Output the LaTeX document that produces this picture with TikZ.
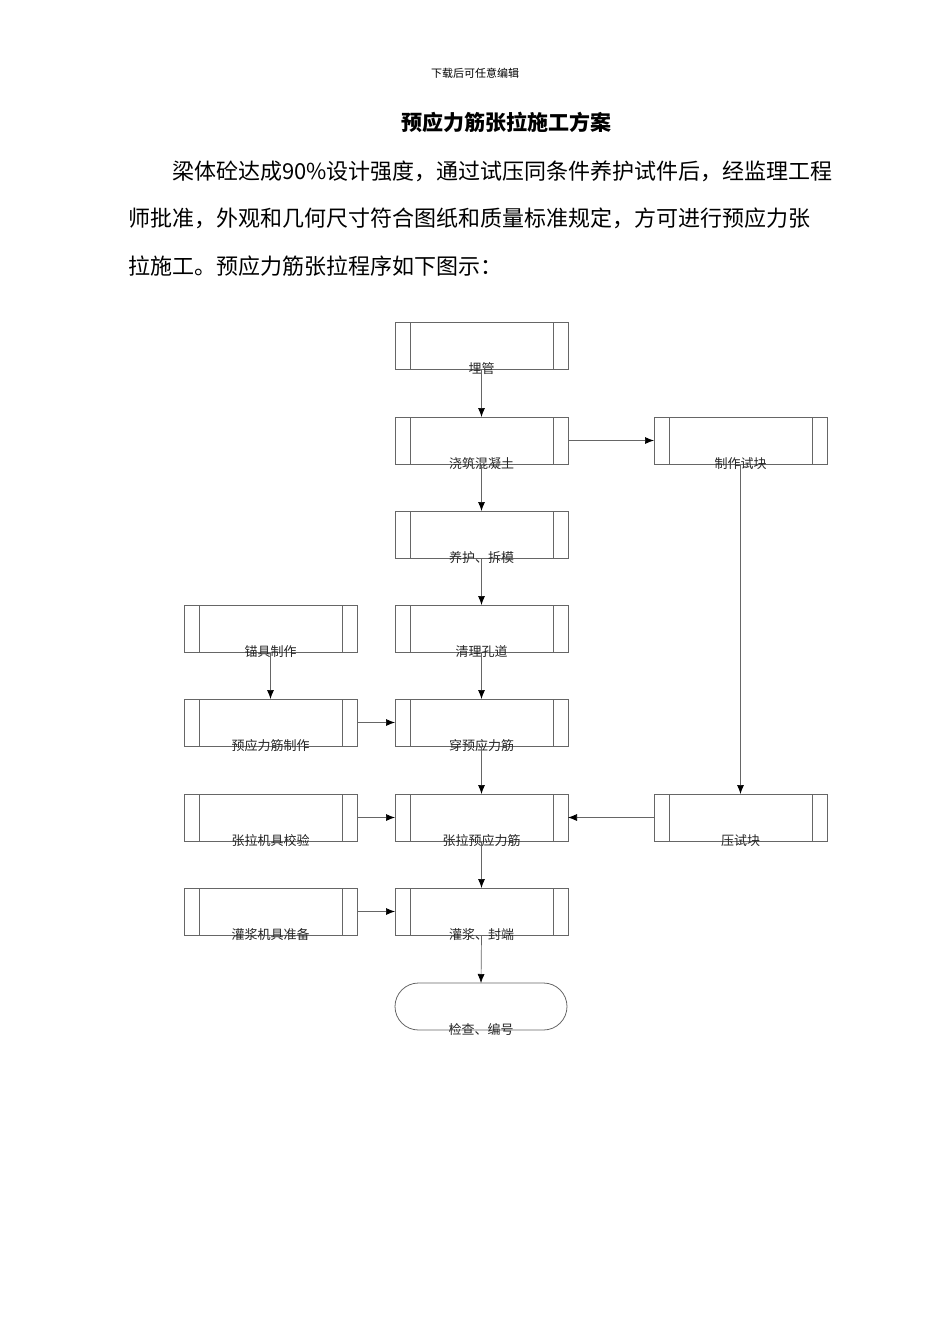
\documentclass[tikz,border=0pt]{standalone}
\usepackage{fontspec}
\setmainfont{Noto Sans CJK SC}
\begin{document}
\begin{tikzpicture}[x=1pt,y=-1pt,
 pp/.style={draw=black!60,line width=0.8pt},
 lab/.style={font=\fontsize{13}{13}\selectfont,text=black!85,anchor=base,inner sep=0pt},
 arr/.style={draw=black!60,line width=0.7pt,-{Latex[length=9pt,width=7pt,color=black]}},
 para/.style={font=\fontsize{22}{22}\selectfont,anchor=base west,inner sep=0pt}]
\usetikzlibrary{arrows.meta}
\useasboundingbox (0,0) rectangle (950,1344);
\node[font=\fontsize{11}{11}\selectfont,anchor=base,inner sep=0pt] (hdr) at (475,77) {下载后可任意编辑};
\node[font=\bfseries\fontsize{21}{21}\selectfont,anchor=base,inner sep=0pt] (title) at (506,130) {预应力筋张拉施工方案};
\node[para] (p1) at (172,179) {\makebox[663pt][s]{梁体砼达成90\%设计强度，通过试压同条件养护试件后，经监理工程}};
\node[para] (p2) at (128,226) {\makebox[707pt][s]{师批准，外观和几何尺寸符合图纸和质量标准规定，方可进行预应力张}};
\node[para] (p3) at (128,274) {拉施工。预应力筋张拉程序如下图示：};
% boxes
\newcommand{\ppbox}[5]{% name, x1, y1, label
 \path[pp] (#2,#3) rectangle (#2+173,#3+47);
 \path[pp] (#2+15,#3) -- (#2+15,#3+47) (#2+158,#3) -- (#2+158,#3+47);
 \coordinate (#1) at (#2+86.5,#3+23.5);
 \coordinate (#1t) at (#2+86.5,#3);
 \coordinate (#1b) at (#2+86.5,#3+47);
 \coordinate (#1l) at (#2,#3+23.5);
 \coordinate (#1r) at (#2+173,#3+23.5);
 \node[lab] (#1x) at (#2+86.5,#3+51) {#4};}
\ppbox{a}{395}{322}{埋管}{}
\ppbox{b}{395}{417}{浇筑混凝土}{}
\ppbox{c}{395}{511}{养护、拆模}{}
\ppbox{d}{395}{605}{清理孔道}{}
\ppbox{e}{395}{699}{穿预应力筋}{}
\ppbox{f}{395}{794}{张拉预应力筋}{}
\ppbox{g}{395}{888}{灌浆、封端}{}
\ppbox{m}{654}{417}{制作试块}{}
\ppbox{n}{654}{794}{压试块}{}
\ppbox{h}{184}{605}{锚具制作}{}
\ppbox{i}{184}{699}{预应力筋制作}{}
\ppbox{j}{184}{794}{张拉机具校验}{}
\ppbox{k}{184}{888}{灌浆机具准备}{}
\path[pp,rounded corners=23.5pt] (395,983) rectangle (567,1030);
\coordinate (zt) at (481,983);
\node[lab] (z) at (481,1034) {检查、编号};
\draw[arr] (ab) -- (bt);
\draw[arr] (bb) -- (ct);
\draw[arr] (cb) -- (dt);
\draw[arr] (db) -- (et);
\draw[arr] (eb) -- (ft);
\draw[arr] (fb) -- (gt);
\draw[arr] (gb) -- (zt);
\draw[arr] (br) -- (ml);
\draw[arr] (mb) -- (nt);
\draw[arr] (nl) -- (fr);
\draw[arr] (hb) -- (it);
\draw[arr] (ir) -- (el);
\draw[arr] (jr) -- (fl);
\draw[arr] (kr) -- (gl);
\end{tikzpicture}
\end{document}
